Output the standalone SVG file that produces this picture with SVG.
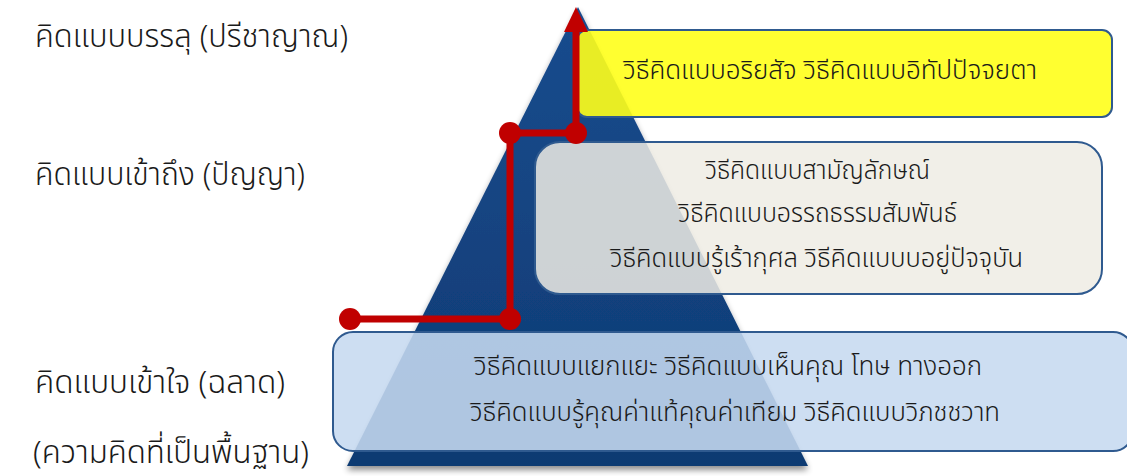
<svg xmlns="http://www.w3.org/2000/svg" width="1127" height="476" viewBox="0 0 1127 476">
<defs>
<linearGradient id="tri" x1="0" y1="0" x2="0" y2="1">
<stop offset="0" stop-color="#1a4c8e"/>
<stop offset="1" stop-color="#0d3a72"/>
</linearGradient>
<filter id="sh" x="-10%" y="-10%" width="120%" height="125%">
<feGaussianBlur in="SourceAlpha" stdDeviation="3"/>
<feOffset dx="0" dy="4" result="b"/>
<feComponentTransfer><feFuncA type="linear" slope="0.45"/></feComponentTransfer>
<feMerge><feMergeNode/><feMergeNode in="SourceGraphic"/></feMerge>
</filter>
<style>
.lbl{font-family:"Noto Sans Thai","Noto Sans","DejaVu Sans",sans-serif;font-size:32px;font-weight:300;fill:#1a1a1a}
.bt{font-family:"Noto Sans Thai","Noto Sans","DejaVu Sans",sans-serif;font-size:27px;font-weight:300;fill:#1a1a1a}
.box{stroke:#2f5a8f;stroke-width:2}
.red{stroke:#c00000;stroke-width:7;fill:none}
.dot{fill:#c00000}
</style>
</defs>
<rect width="1127" height="476" fill="#ffffff"/>
<g id="pyramid" filter="url(#sh)">
<polygon points="578,7 347,466 808,466" fill="url(#tri)"/>
</g>
<g id="labels">
<text class="lbl" x="35" y="47" textLength="313" lengthAdjust="spacingAndGlyphs">คิดแบบบรรลุ (ปรีชาญาณ)</text>
<text class="lbl" x="35" y="185" textLength="270" lengthAdjust="spacingAndGlyphs">คิดแบบเข้าถึง (ปัญญา)</text>
<text class="lbl" x="35" y="393" textLength="250" lengthAdjust="spacingAndGlyphs">คิดแบบเข้าใจ (ฉลาด)</text>
<text class="lbl" x="33" y="463" textLength="276" lengthAdjust="spacingAndGlyphs">(ความคิดที่เป็นพื้นฐาน)</text>
</g>
<g id="box-top">
<rect class="box" x="577" y="30" width="535" height="87" rx="10" fill="#ffff1a" fill-opacity="0.9"/>
<text class="bt" x="623" y="79" textLength="414" lengthAdjust="spacingAndGlyphs">วิธีคิดแบบอริยสัจ วิธีคิดแบบอิทัปปัจจยตา</text>
</g>
<g id="box-middle">
<rect class="box" x="535" y="142" width="567" height="152" rx="25" fill="#eeece4" fill-opacity="0.85"/>
<text class="bt" x="705" y="179" textLength="225" lengthAdjust="spacingAndGlyphs">วิธีคิดแบบสามัญลักษณ์</text>
<text class="bt" x="678" y="222" textLength="279" lengthAdjust="spacingAndGlyphs">วิธีคิดแบบอรรถธรรมสัมพันธ์</text>
<text class="bt" x="610" y="267" textLength="413" lengthAdjust="spacingAndGlyphs">วิธีคิดแบบรู้เร้ากุศล วิธีคิดแบบบอยู่ปัจจุบัน</text>
</g>
<g id="box-bottom">
<rect class="box" x="333" y="332" width="800" height="119" rx="20" fill="#c6d9f0" fill-opacity="0.88"/>
<text class="bt" x="474" y="375" textLength="508" lengthAdjust="spacingAndGlyphs">วิธีคิดแบบแยกแยะ วิธีคิดแบบเห็นคุณ โทษ ทางออก</text>
<text class="bt" x="470" y="421" textLength="530" lengthAdjust="spacingAndGlyphs">วิธีคิดแบบรู้คุณค่าแท้คุณค่าเทียม วิธีคิดแบบวิภชชวาท</text>
</g>
<g id="connectors">
<polyline class="red" points="350,319 510,319 510,133 576,133 576,32"/>
<polygon points="576,7 564,32 588,32" fill="#c00000"/>
<circle class="dot" cx="350" cy="319" r="11"/>
<circle class="dot" cx="510" cy="319" r="11"/>
<circle class="dot" cx="510" cy="133" r="11"/>
<circle class="dot" cx="576" cy="133" r="11"/>
</g>
</svg>
